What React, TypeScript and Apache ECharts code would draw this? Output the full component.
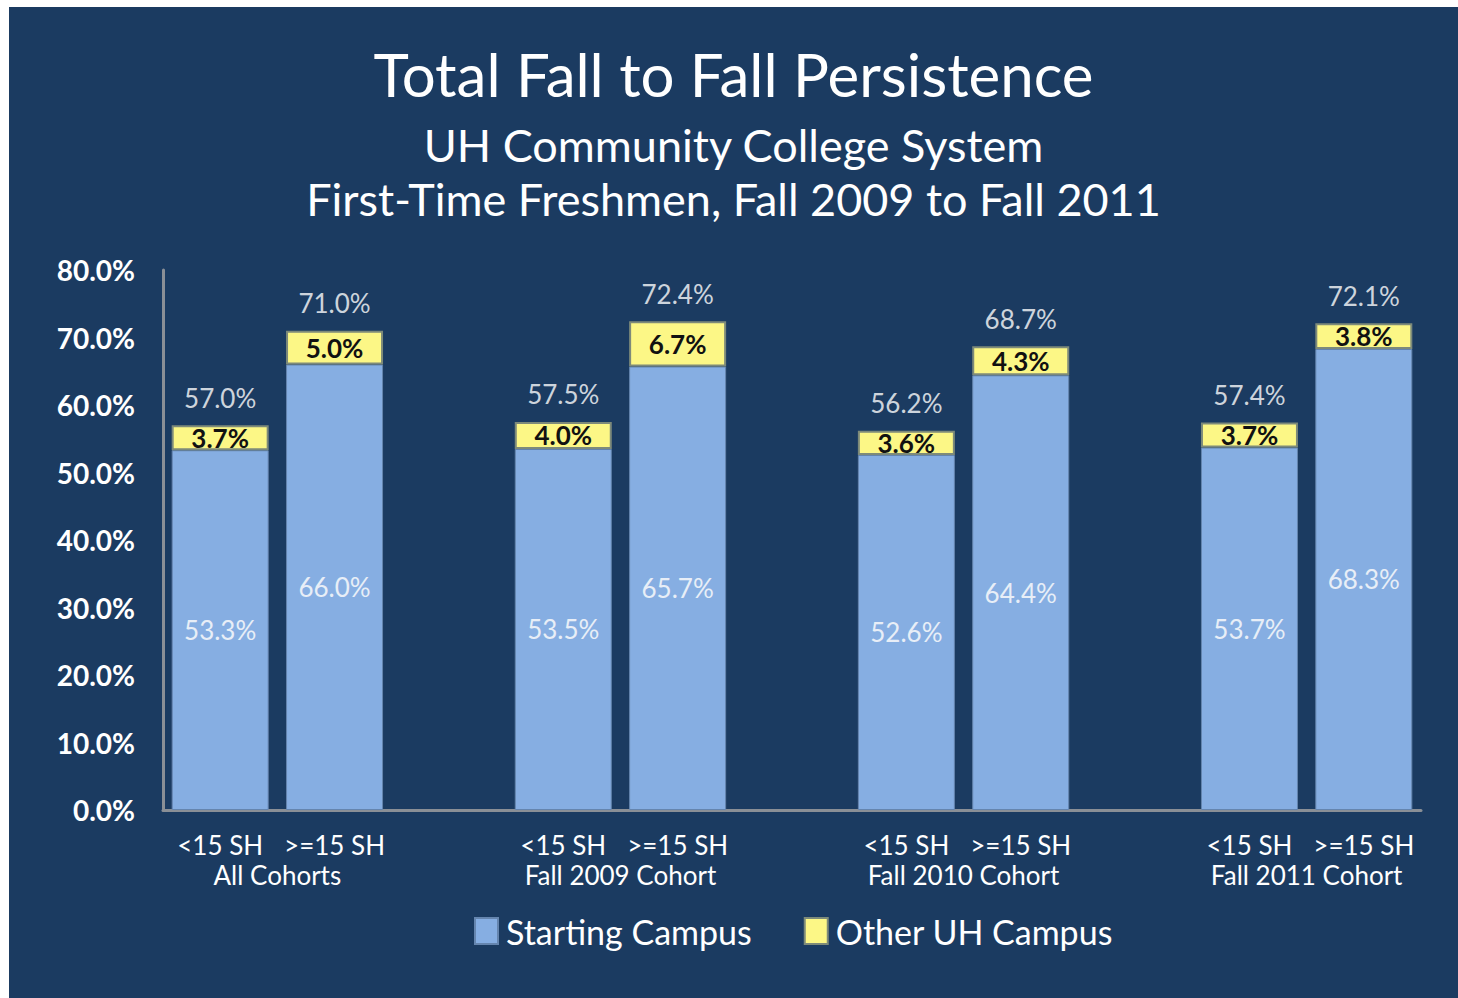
import React, { useEffect, useRef } from "react";
import * as echarts from "echarts";

const barLabels = ["<15 SH", ">=15 SH"];
const cohorts = ["All Cohorts", "Fall 2009 Cohort", "Fall 2010 Cohort", "Fall 2011 Cohort"];
const startingCampus = [53.3, 66.0, 53.5, 65.7, 52.6, 64.4, 53.7, 68.3];
const otherCampus = [3.7, 5.0, 4.0, 6.7, 3.6, 4.3, 3.7, 3.8];
const totals = [57.0, 71.0, 57.5, 72.4, 56.2, 68.7, 57.4, 72.1];
const yMin = 0;
const yMax = 80;
const yStep = 10;

const FONT = "Lato";
const BG = "#1b3b61";
const BLUE = "#86aee2";
const YELLOW = "#fcf786";

// 11 slots: two bars per cohort, an empty slot between cohorts
function spread<T>(vals: T[], blank: any): any[] {
  const out: any[] = [];
  cohorts.forEach((_, g) => {
    out.push(vals[g * 2], vals[g * 2 + 1]);
    if (g < cohorts.length - 1) out.push(blank);
  });
  return out;
}

const categories: string[] = [];
cohorts.forEach((_, g) => {
  barLabels.forEach((b) => categories.push(`${b}|${g}`));
  if (g < cohorts.length - 1) categories.push(`gap|${g}`);
});
const groupCenters = cohorts.map((_, g) => g * 3 + 0.5);

export default function App() {
  const ref = useRef<HTMLDivElement>(null);
  useEffect(() => {
    if (!ref.current) return;
    const chart = echarts.init(ref.current, null, { renderer: "svg" });
    chart.setOption({
      animation: false,
      backgroundColor: BG,
      textStyle: { fontFamily: FONT },
      title: [
        {
          text: "Total Fall to Fall Persistence",
          left: "center",
          top: 32,
          textStyle: { color: "#ffffff", fontSize: 60, fontWeight: "normal", fontFamily: FONT },
        },
        {
          text: "UH Community College System\nFirst-Time Freshmen, Fall 2009 to Fall 2011",
          left: "center",
          top: 106,
          textStyle: {
            color: "#ffffff",
            fontSize: 45,
            lineHeight: 54,
            fontWeight: "normal",
            fontFamily: FONT,
          },
        },
      ],
      legend: {
        left: 465,
        top: 907,
        padding: 0,
        itemWidth: 23,
        itemHeight: 26,
        itemGap: 52,
        icon: "rect",
        textStyle: { color: "#ffffff", fontSize: 34, fontFamily: FONT, padding: [0, 0, 0, 3] },
        data: ["Starting Campus", "Other UH Campus"],
      },
      grid: { left: 154, right: 37, top: 263, bottom: 188, containLabel: false },
      xAxis: [
        {
          type: "category",
          data: categories,
          axisLine: { show: true, onZero: false, lineStyle: { color: "#8a8f96", width: 3 } },
          axisTick: { show: false },
          axisLabel: {
            color: "#ffffff",
            fontSize: 26,
            fontFamily: FONT,
            margin: 22,
            interval: 0,
            formatter: (v: string) => (v.startsWith("gap") ? "" : v.split("|")[0]),
          },
        },
        {
          type: "value",
          position: "bottom",
          min: -0.5,
          max: categories.length - 0.5,
          axisLine: { show: false, onZero: false },
          axisTick: { show: false },
          splitLine: { show: false },
          axisLabel: {
            customValues: groupCenters,
            color: "#ffffff",
            fontSize: 26,
            fontFamily: FONT,
            margin: 52,
            formatter: (v: number) => {
              const idx = groupCenters.findIndex((c) => Math.abs(c - v) < 0.01);
              return idx >= 0 ? cohorts[idx] : "";
            },
          },
        },
      ],
      yAxis: {
        type: "value",
        min: yMin,
        max: yMax,
        interval: yStep,
        axisLine: { show: true, onZero: false, lineStyle: { color: "#8a8f96", width: 3 } },
        axisTick: { show: false },
        splitLine: { show: false },
        axisLabel: {
          color: "#ffffff",
          fontSize: 28,
          fontWeight: "bold",
          fontFamily: FONT,
          margin: 28,
          formatter: (v: number) => v.toFixed(1) + "%",
        },
      },
      series: [
        {
          name: "Starting Campus",
          type: "bar",
          stack: "total",
          xAxisIndex: 0,
          barWidth: 97,
          data: spread(startingCampus, "-"),
          itemStyle: { color: BLUE, borderColor: "#6585ae", borderWidth: 1 },
          label: {
            show: true,
            position: "inside",
            color: "#e8eef7",
            fontSize: 26,
            fontFamily: FONT,
            formatter: (p: any) => Number(p.value).toFixed(1) + "%",
          },
        },
        {
          name: "Other UH Campus",
          type: "bar",
          stack: "total",
          xAxisIndex: 0,
          barWidth: 97,
          data: spread(otherCampus, "-"),
          itemStyle: { color: YELLOW, borderColor: "#7d8a7a", borderWidth: 2 },
          label: {
            show: true,
            position: "inside",
            color: "#111111",
            fontSize: 26,
            fontWeight: "bold",
            fontFamily: FONT,
            formatter: (p: any) => Number(p.value).toFixed(1) + "%",
          },
        },
        {
          name: "Total",
          type: "scatter",
          xAxisIndex: 0,
          symbolSize: 1,
          itemStyle: { color: "rgba(0,0,0,0)" },
          data: spread(totals, "-"),
          label: {
            show: true,
            position: "top",
            distance: 14,
            color: "#ffffff",
            fontSize: 26,
            fontFamily: FONT,
            formatter: (p: any) => Number(p.value).toFixed(1) + "%",
          },
        },
      ],
    });
    return () => chart.dispose();
  }, []);
  return (
    <div
      ref={ref}
      style={{ position: "absolute", left: 9, top: 7, width: 1449, height: 991 }}
    />
  );
}
